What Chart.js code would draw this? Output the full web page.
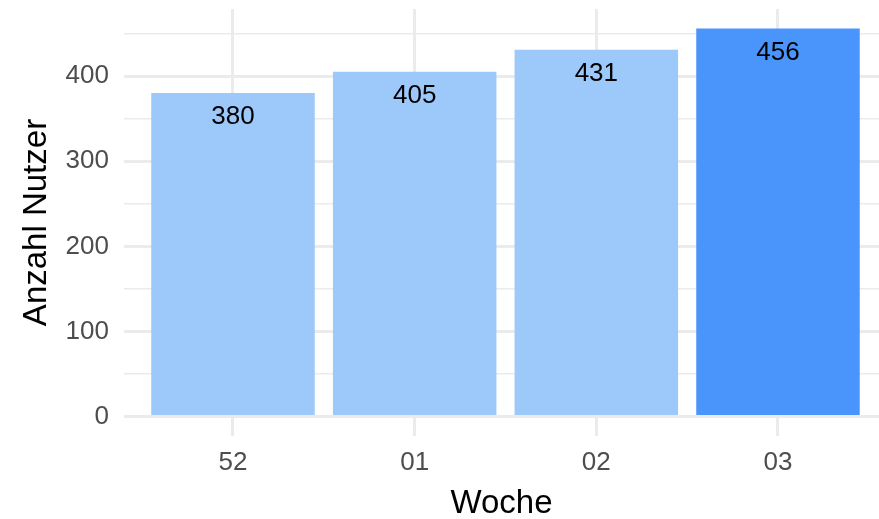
<!DOCTYPE html>
<html>
<head>
<meta charset="utf-8">
<script src="https://cdn.jsdelivr.net/npm/chart.js@4"></script>
<style>
  html, body { margin: 0; padding: 0; background: #fff; }
  #wrap { width: 879px; height: 519px; }
</style>
</head>
<body>
<div id="wrap"><canvas id="nutzerChart"></canvas></div>
<script>
// Woche / Anzahl Nutzer
const weeks = ['52', '01', '02', '03'];
const users = [380, 405, 431, 456];
const barColors = ['#9cc8fa', '#9cc8fa', '#9cc8fa', '#4a95fc'];
const yTicks = [0, 50, 100, 150, 200, 250, 300, 350, 400, 450];

const fontFamily = '"Liberation Sans", Arial, sans-serif';
const gridColor = '#ebebeb';

// value labels inside the top of each bar
const barLabels = {
    id: 'barLabels',
    afterDatasetsDraw(chart) {
        const ctx = chart.ctx;
        const meta = chart.getDatasetMeta(0);
        ctx.save();
        ctx.font = '26px ' + fontFamily;
        ctx.fillStyle = '#000';
        ctx.textAlign = 'center';
        ctx.textBaseline = 'middle';
        meta.data.forEach((bar, i) => {
            ctx.fillText(String(users[i]), bar.x, bar.y + 24);
        });
        ctx.restore();
    }
};

const ctx = document.getElementById('nutzerChart').getContext('2d');
new Chart(ctx, {
    type: 'bar',
    data: {
        datasets: [{
            data: users.map((v, i) => ({ x: i, y: v })),
            backgroundColor: barColors,
            borderWidth: 0,
            barPercentage: 0.9,
            categoryPercentage: 1
        }]
    },
    options: {
        responsive: true,
        maintainAspectRatio: false,
        animation: false,
        layout: { padding: { top: 9, left: 0, right: 0, bottom: -5 } },
        plugins: {
            legend: { display: false },
            tooltip: { enabled: false }
        },
        scales: {
            x: {
                type: 'linear',
                min: -0.6,
                max: 3.556,
                offset: false,
                afterBuildTicks: scale => { scale.ticks = weeks.map((w, i) => ({ value: i })); },
                afterFit: scale => {
                    scale.height = 88;
                    scale.paddingLeft = 0;
                    scale.paddingRight = 0;
                },
                grid: { color: gridColor, lineWidth: 3, drawTicks: false, offset: false },
                border: { display: false },
                ticks: {
                    padding: 11,
                    color: '#4d4d4d',
                    font: { family: fontFamily, size: 26 },
                    maxRotation: 0,
                    callback: v => weeks[v]
                },
                title: {
                    display: true,
                    text: 'Woche',
                    color: '#000',
                    font: { family: fontFamily, size: 33 },
                    padding: 0
                }
            },
            y: {
                min: -22.8,
                max: 478.8,
                afterBuildTicks: scale => { scale.ticks = yTicks.map(v => ({ value: v })); },
                afterFit: scale => {
                    scale.width = 124;
                    scale.paddingTop = 0;
                    scale.paddingBottom = 0;
                },
                grid: {
                    color: gridColor,
                    lineWidth: c => (c.tick && c.tick.value % 100 === 0 ? 3 : 1.5),
                    drawTicks: false
                },
                border: { display: false },
                ticks: {
                    padding: 15,
                    color: '#4d4d4d',
                    font: { family: fontFamily, size: 26 },
                    callback: v => (v % 100 === 0 ? String(v) : '')
                },
                title: {
                    display: true,
                    text: 'Anzahl Nutzer',
                    color: '#000',
                    font: { family: fontFamily, size: 33 },
                    padding: { top: 17, bottom: 0 }
                }
            }
        }
    },
    plugins: [barLabels]
});
</script>
</body>
</html>
